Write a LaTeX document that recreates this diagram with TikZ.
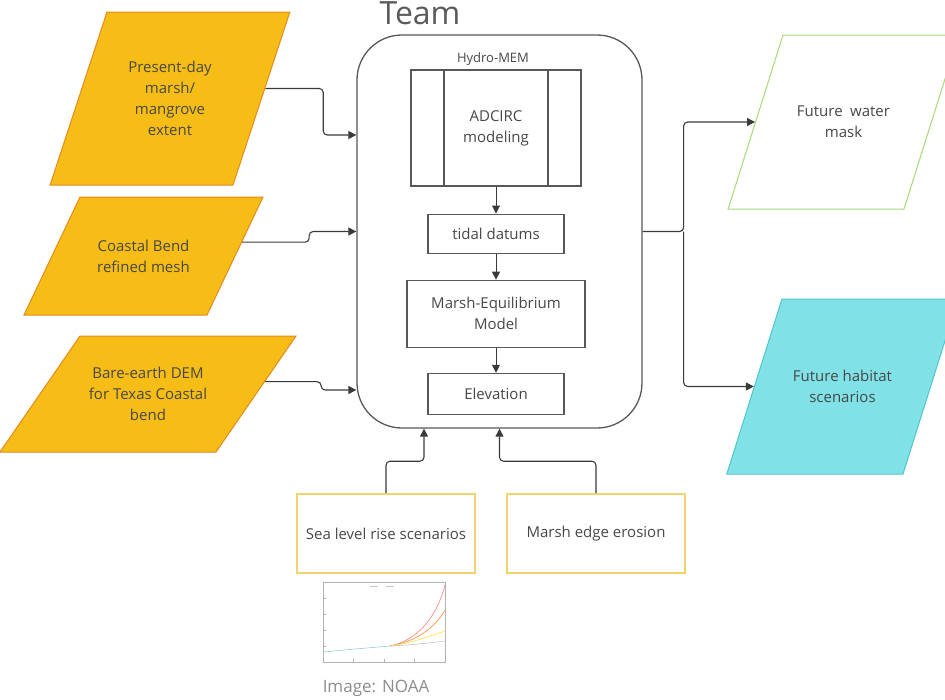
\documentclass[tikz,border=0pt]{standalone}
\usepackage{fontspec}
\setmainfont{Open Sans}
\usepackage{tikz}
\usetikzlibrary{arrows.meta, shapes.geometric, positioning, calc}
\definecolor{flowline}{HTML}{3A3A3A}
\definecolor{flowtext}{HTML}{474747}
\definecolor{inorange}{HTML}{F6BD16}
\definecolor{inedge}{HTML}{E8891C}
\definecolor{outgreen}{HTML}{A8D878}
\definecolor{outcyan}{HTML}{80E2E6}
\definecolor{outteal}{HTML}{4EC6CC}
\definecolor{scenyellow}{HTML}{F2D46E}
% text box of fixed size inside a slanted node
\newcommand{\slantbox}[3]{\parbox[c][#2][c]{#1}{\centering #3}}

\begin{document}
\begin{tikzpicture}[
    x=1pt, y=-1pt,
    txt/.style     = {font=\fontsize{15}{21}\selectfont, text=flowtext, align=center},
    slanted/.style = {txt, trapezium, inner sep=0pt, line width=1pt,
                      trapezium left angle=#1, trapezium right angle=180-#1},
    indata/.style  = {slanted=#1, draw=inedge, fill=inorange},
    outdata/.style = {slanted=72.5},
    stepbox/.style = {txt, draw=flowline!85, line width=1.1pt, inner sep=0pt},
    scenbox/.style = {txt, draw=scenyellow, line width=1.6pt, minimum width=178pt,
                      minimum height=79pt},
    arr/.style     = {-{Triangle[length=8pt,width=8pt]}, line width=1.1pt,
                      draw=flowline, rounded corners=4pt},
  ]
  \useasboundingbox (0,0) rectangle (945,699);

  %% Title
  \node[font=\fontsize{32}{32}\selectfont, text=flowtext!90, anchor=base] (team) at (420,24) {Team};

  %% Model container
  \node[draw=flowline!85, line width=1.3pt, rounded corners=45pt,
        minimum width=285pt, minimum height=393pt] (hydro) at (499.5,231.5) {};
  \node[font=\fontsize{13}{13}\selectfont, text=flowtext] (hydrolbl) at (493,59) {Hydro-MEM};

  %% Inner chain
  \node[stepbox, minimum width=170pt, minimum height=116pt] (adcirc) at (496,128)
        {ADCIRC\\modeling};
  \draw[flowline!85, line width=1.1pt] ([xshift=-52pt]adcirc.north) -- ([xshift=-52pt]adcirc.south);
  \draw[flowline!85, line width=1.1pt] ([xshift=52pt]adcirc.north) -- ([xshift=52pt]adcirc.south);
  \node[stepbox, minimum width=136pt, minimum height=39pt, below=27pt of adcirc] (tidal)
        {tidal datums};
  \node[stepbox, minimum width=178pt, minimum height=67pt, below=26pt of tidal] (mem)
        {Marsh-Equilibrium\\Model};
  \node[stepbox, minimum width=136pt, minimum height=41pt, below=25pt of mem] (elev)
        {Elevation};
  \draw[arr, line width=0.9pt] (adcirc) -- (tidal);
  \draw[arr, line width=0.9pt] (tidal) -- (mem);
  \draw[arr, line width=0.9pt] (mem) -- (elev);

  %% Inputs on the left
  \node[indata=71.8] (present) at (170,98.5)
        {\slantbox{126pt}{173pt}{Present-day\\marsh/\\mangrove\\extent}};
  \node[indata=64.6] (coastal) at (143.5,256)
        {\slantbox{127pt}{118pt}{Coastal Bend\\refined mesh}};
  \node[indata=55.4] (dem) at (148,394)
        {\slantbox{136pt}{116pt}{Bare-earth DEM\\for Texas Coastal\\bend}};

  \draw[arr] (present.6) -- ++(58,0) |- ([yshift=96.5pt]hydro.west);
  \draw[arr] (coastal.8) -- ++(67,0) |- (hydro.west);
  \draw[arr] (dem.6) -- ++(56,0) |- ([yshift=-158.5pt]hydro.west);

  %% Scenario inputs below
  \node[scenbox] (slr) at (386,533.5) {Sea level rise scenarios};
  \node[scenbox] (erosion) at (596,533.5) {Marsh edge erosion};
  \draw[arr] (slr.north) -- ++(0,-32) -| ([xshift=-75.5pt]hydro.south);
  \draw[arr] (erosion.north) -- ++(0,-32) -| (hydro.south);

  %% NOAA projection chart
  \draw[gray!60, line width=0.4pt] (323,582) rectangle (445,662);
  \foreach \tx in {353.5,384,414.5} {
    \draw[gray!60, line width=0.4pt] (\tx,662) -- (\tx,659);
  }
  \foreach \ty in {598,614,630,646} {
    \draw[gray!60, line width=0.4pt] (323,\ty) -- (326,\ty);
  }
  \draw[gray!45, line width=0.6pt] (370,586) -- (378,586) (386,586) -- (394,586);
  \draw[teal!40, line width=0.6pt] (323,652) -- (355,649) -- (390,646);
  \draw[red!45, line width=0.7pt] (390,646) .. controls (415,641) and (436,620) .. (445,585);
  \draw[orange!80!red!70, line width=0.7pt] (390,646) .. controls (415,642) and (435,628) .. (445,610);
  \draw[yellow!80!orange!70, line width=0.7pt] (390,646) .. controls (412,643) and (430,636) .. (445,631);
  \draw[gray!45, line width=0.6pt] (390,646) .. controls (410,645) and (430,643) .. (445,641);
  \node[font=\fontsize{17}{17}\selectfont, text=gray!90] (noaa) at (376,688) {Image: NOAA};

  %% Outputs on the right
  \node[outdata, draw=outgreen, fill=white] (water) at (843.5,122)
        {\slantbox{121pt}{174pt}{Future\enspace water\\mask}};
  \node[outdata, draw=outteal, fill=outcyan] (habitat) at (842.5,386.5)
        {\slantbox{121pt}{175pt}{Future habitat\\scenarios}};
  \draw[arr] (hydro.east) -- ++(41,0) coordinate (fork) |- (water.west);
  \draw[arr] (fork) |- (habitat.west);

\end{tikzpicture}
\end{document}
